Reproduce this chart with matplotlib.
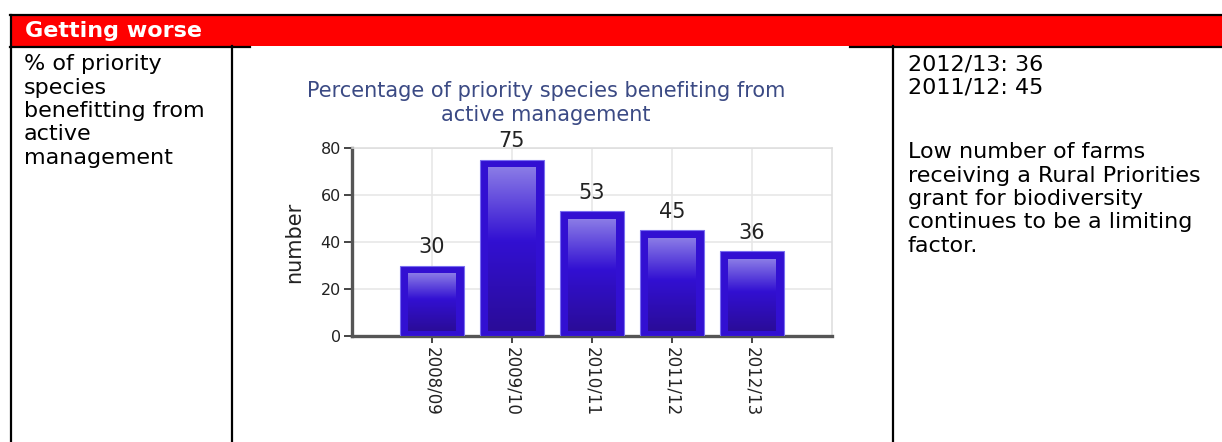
import matplotlib
matplotlib.use("Agg")
import matplotlib.pyplot as plt
import numpy as np
from matplotlib.patches import Rectangle
from matplotlib.colors import to_rgb

# データ
years = ["2008/09", "2009/10", "2010/11", "2011/12", "2012/13"]
values = [30, 75, 53, 45, 36]
y_ticks = [0, 20, 40, 60, 80]

header_text = "Getting worse"
indicator_lines = ["% of priority", "species", "benefitting from", "active", "management"]
latest_lines = ["2012/13: 36", "2011/12: 45"]
comment_lines = [
    "Low number of farms",
    "receiving a Rural Priorities",
    "grant for biodiversity",
    "continues to be a limiting",
    "factor.",
]
chart_title = "Percentage of priority species benefiting from\nactive management"
y_label = "number"

W, H = 1222, 442
fig = plt.figure(figsize=(W / 100, H / 100), dpi=100)

# 背景（表の枠）をピクセル座標で描く
bg = fig.add_axes([0, 0, 1, 1])
bg.set_xlim(0, W)
bg.set_ylim(H, 0)
bg.axis("off")

lw = 1.6
bg.add_patch(Rectangle((10, 15), W - 10, 31, facecolor="#ff0000", edgecolor="none"))
bg.plot([10, W], [15, 15], color="black", lw=lw)
bg.plot([10, 250], [46.5, 46.5], color="black", lw=lw)
bg.plot([850, W], [46.5, 46.5], color="black", lw=lw)
bg.plot([10.5, 10.5], [15, H], color="black", lw=lw)
bg.plot([232, 232], [46, H], color="black", lw=lw)
bg.plot([893, 893], [46, H], color="black", lw=lw)

txt_font = "DejaVu Sans"
bg.text(25, 37, header_text, color="white", fontsize=16, fontweight="bold",
        family=txt_font, va="baseline", ha="left")

for i, line in enumerate(indicator_lines):
    bg.text(24, 70 + i * 23.5, line, fontsize=16, family=txt_font,
            va="baseline", ha="left", color="black")

for i, line in enumerate(latest_lines):
    bg.text(908, 70 + i * 23.5, line, fontsize=16, family=txt_font,
            va="baseline", ha="left", color="black")

for i, line in enumerate(comment_lines):
    bg.text(908, 158 + i * 23.5, line, fontsize=16, family=txt_font,
            va="baseline", ha="left", color="black")

# グラフのタイトル
bg.text(546, 103, chart_title, fontsize=15, family=txt_font, color="#3b4a84",
        ha="center", va="center", linespacing=1.2)

# 棒グラフ
ax = fig.add_axes([352 / W, (H - 336) / H, 480 / W, 188 / H])
x = np.arange(len(years))
bars = ax.bar(x, values, width=0.8, color="#3210d2", edgecolor="#7a6ef0",
              linewidth=0.8, zorder=3)

# 棒の内側のグラデーション
top_c = np.array(to_rgb("#8a7be6"))
mid_c = np.array(to_rgb("#3210d2"))
bot_c = np.array(to_rgb("#2a0c98"))
n = 100
t = np.linspace(0, 1, n)
grad = np.zeros((n, 1, 3))
for k, tt in enumerate(t):
    if tt < 0.45:
        f = tt / 0.45
        grad[k, 0] = top_c * (1 - f) + mid_c * f
    else:
        f = (tt - 0.45) / 0.55
        grad[k, 0] = mid_c * (1 - f) + bot_c * f

for b in bars:
    x0 = b.get_x() + 0.1
    x1 = b.get_x() + b.get_width() - 0.1
    top = b.get_height() - 3.4
    ax.imshow(grad, extent=[x0, x1, 2.1, top], origin="upper", aspect="auto",
              zorder=4, interpolation="bilinear")

for xi, v in zip(x, values):
    ax.annotate(str(v), (xi, v), xytext=(0, 6), textcoords="offset points",
                ha="center", va="bottom", fontsize=15, color="#222222",
                family=txt_font)

ax.set_xlim(-1, 5)
ax.set_ylim(0, 80)
ax.set_yticks(y_ticks)
ax.set_xticks(x, years, rotation=270)
ax.grid(True, color="#e6e6e6", linewidth=1.1)
ax.set_axisbelow(True)
for s in ["top", "right"]:
    ax.spines[s].set_color("#dddddd")
    ax.spines[s].set_linewidth(1.1)
for s in ["left", "bottom"]:
    ax.spines[s].set_color("#555555")
    ax.spines[s].set_linewidth(2.4)
ax.tick_params(axis="y", length=6, width=1.4, color="#444444", labelsize=11.5,
               labelcolor="#222222", pad=2)
ax.tick_params(axis="x", length=5, width=1.4, color="#444444", labelsize=12,
               labelcolor="#222222", pad=3)
ax.set_ylabel(y_label, fontsize=15, color="#222222")
ax.yaxis.set_label_coords(-0.1, 0.5)

fig.savefig("out.png", dpi=100)
